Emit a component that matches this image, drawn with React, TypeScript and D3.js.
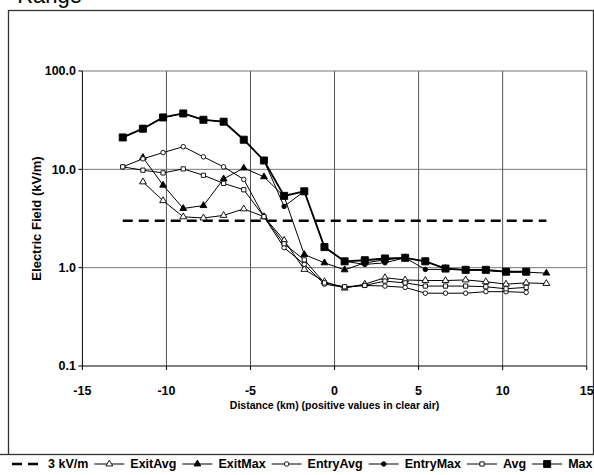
import React from "react";
import * as d3 from "d3";

// distance bins (km), negative = inside cloud
const distances = [-12.6, -11.4, -10.2, -9.0, -7.8, -6.6, -5.4, -4.2, -3.0, -1.8, -0.6, 0.6, 1.8, 3.0, 4.2, 5.4, 6.6, 7.8, 9.0, 10.2, 11.4, 12.6];

const threshold = [3, 3, 3, 3, 3, 3, 3, 3, 3, 3, 3, 3, 3, 3, 3, 3, 3, 3, 3, 3, 3, 3];
const exitAvg = [null, 7.45, 4.8, 3.29, 3.2, 3.4, 3.96, 3.3, 1.9, 0.96, 0.72, 0.62, 0.68, 0.79, 0.75, 0.74, 0.74, 0.75, 0.72, 0.68, 0.7, 0.69];
const exitMax = [null, 13.2, 6.9, 4.0, 4.28, 8.0, 10.3, 8.4, 5.3, 1.36, 1.12, 0.95, 1.12, 1.2, 1.26, 1.16, 0.98, 0.95, 0.94, 0.9, 0.9, 0.88];
const entryAvg = [10.6, 12.8, 14.8, 17.0, 13.4, 10.6, 7.9, 3.3, 1.6, 1.08, 0.68, 0.63, 0.66, 0.65, 0.63, 0.55, 0.55, 0.55, 0.57, 0.57, 0.56, null];
const entryMax = [21.1, 25.9, 33.7, 37.0, 31.9, 30.5, 20.0, 12.3, 4.2, 5.98, 1.62, 1.16, 1.08, 1.12, 1.26, 0.96, 0.96, 0.95, 0.94, 0.91, 0.91, null];
const avg = [10.6, 9.8, 9.2, 10.1, 8.7, 7.2, 6.2, 3.3, 1.75, 1.2, 0.7, 0.64, 0.66, 0.73, 0.7, 0.65, 0.65, 0.65, 0.64, 0.61, 0.63, null];
const max = [21.1, 25.9, 33.7, 37.0, 31.9, 30.5, 20.0, 12.3, 5.37, 5.98, 1.62, 1.16, 1.19, 1.24, 1.26, 1.16, 0.98, 0.95, 0.95, 0.91, 0.91, null];

const xTicks = [-15, -10, -5, 0, 5, 10, 15];
const yTicks = [0.1, 1, 10, 100];

const FONT = "'Liberation Sans', Arial, sans-serif";

const series = [
  { name: "3 kV/m", values: threshold, symbol: null, fill: "none", size: 0, width: 2.4, dash: "10,6" },
  { name: "ExitAvg", values: exitAvg, symbol: d3.symbolTriangle, fill: "#fff", size: 20, width: 1 },
  { name: "ExitMax", values: exitMax, symbol: d3.symbolTriangle, fill: "#000", size: 20, width: 1 },
  { name: "EntryAvg", values: entryAvg, symbol: d3.symbolCircle, fill: "#fff", size: 16, width: 1 },
  { name: "EntryMax", values: entryMax, symbol: d3.symbolCircle, fill: "#000", size: 16, width: 1 },
  { name: "Avg", values: avg, symbol: d3.symbolSquare, fill: "#fff", size: 18, width: 1 },
  { name: "Max", values: max, symbol: d3.symbolSquare, fill: "#000", size: 50, width: 1.8 },
];

function textWidth(str: string, font: string) {
  const c = document.createElement("canvas").getContext("2d");
  if (!c) return str.length * 7;
  c.font = font;
  return c.measureText(str).width;
}

export default function App() {
  const W = 594;
  const H = 475;
  const plot = { left: 82.4, right: 586.7, top: 71, bottom: 366 };

  const x = d3.scaleLinear().domain([-15, 15]).range([plot.left, plot.right]);
  const y = d3.scaleLog().domain([0.1, 100]).range([plot.bottom, plot.top]);

  const line = d3
    .line<number | null>()
    .defined((d) => d != null)
    .x((_, i) => x(distances[i]))
    .y((d) => y(d as number));

  // legend layout
  const legendFont = `bold 12.5px ${FONT}`;
  let cursor = 48;
  const legendItems = series.map((s) => {
    const item = { s, textX: cursor, sample: [cursor - 36, cursor - 6] };
    cursor += textWidth(s.name, legendFont) + 42;
    return item;
  });
  const legendY = 464;

  return (
    <svg width={W} height={H} style={{ position: "absolute", left: 0, top: 0, background: "#fff" }} fontFamily={FONT}>
      <text x={82} y={3} textAnchor="end" fontSize={22}>Range</text>
      <rect x={8.5} y={10.5} width={585} height={480} fill="#fff" stroke="#333" strokeWidth={1.3} />

      {/* gridlines */}
      {yTicks.slice(1).map((t) => (
        <line key={"gy" + t} x1={plot.left} x2={plot.right} y1={y(t)} y2={y(t)} stroke="#777" strokeWidth={1} />
      ))}
      {xTicks.slice(1).map((t) => (
        <line key={"gx" + t} x1={x(t)} x2={x(t)} y1={plot.top} y2={plot.bottom} stroke="#555" strokeWidth={1} />
      ))}

      {/* axes */}
      <line x1={plot.left} x2={plot.left} y1={plot.top} y2={plot.bottom} stroke="#000" />
      <line x1={plot.left} x2={plot.right} y1={plot.bottom} y2={plot.bottom} stroke="#000" />
      {yTicks.map((t) => (
        <g key={"ty" + t}>
          <line x1={plot.left - 4} x2={plot.left} y1={y(t)} y2={y(t)} stroke="#000" />
          <text x={76} y={y(t)} dy="0.35em" textAnchor="end" fontSize={12.5} fontWeight="bold">
            {t.toFixed(1)}
          </text>
        </g>
      ))}
      {xTicks.map((t) => (
        <g key={"tx" + t}>
          <line x1={x(t)} x2={x(t)} y1={plot.bottom} y2={plot.bottom + 4} stroke="#000" />
          <text x={x(t)} y={395} textAnchor="middle" fontSize={12.5} fontWeight="bold">
            {t}
          </text>
        </g>
      ))}
      <text
        transform={`translate(41,${(plot.top + plot.bottom) / 2}) rotate(-90)`}
        textAnchor="middle"
        fontSize={13}
        fontWeight="bold"
      >
        Electric Field (kV/m)
      </text>
      <text x={(plot.left + plot.right) / 2} y={409} textAnchor="middle" fontSize={10.5} fontWeight="bold">
        Distance (km) (positive values in clear air)
      </text>

      {/* series */}
      {series.map((s) => (
        <g key={s.name}>
          <path d={line(s.values) || ""} fill="none" stroke="#000" strokeWidth={s.width} strokeDasharray={s.dash} />
          {s.symbol &&
            s.values.map((v, i) =>
              v == null ? null : (
                <path
                  key={i}
                  transform={`translate(${x(distances[i])},${y(v)})`}
                  d={d3.symbol(s.symbol!, s.size)() || ""}
                  fill={s.fill}
                  stroke="#000"
                  strokeWidth={0.9}
                />
              )
            )}
        </g>
      ))}

      {/* legend */}
      <rect x={-20} y={454.5} width={640} height={40} fill="#fff" stroke="#333" strokeWidth={1.3} />
      {legendItems.map(({ s, textX, sample }) => (
        <g key={"lg" + s.name}>
          <line x1={sample[0]} x2={sample[1]} y1={legendY} y2={legendY} stroke="#000" strokeWidth={s.dash ? 2.4 : 1} strokeDasharray={s.dash} />
          {s.symbol && (
            <path
              transform={`translate(${(sample[0] + sample[1]) / 2},${legendY})`}
              d={d3.symbol(s.symbol, s.size)() || ""}
              fill={s.fill}
              stroke="#000"
              strokeWidth={0.9}
            />
          )}
          <text x={textX} y={legendY} dy="0.35em" fontSize={12.5} fontWeight="bold">
            {s.name}
          </text>
        </g>
      ))}
    </svg>
  );
}
